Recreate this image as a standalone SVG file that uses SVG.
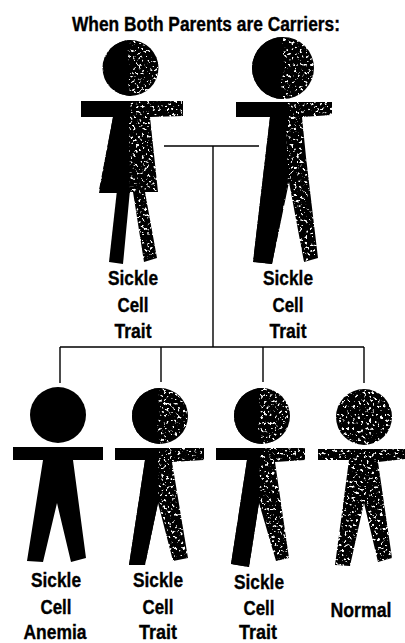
<svg xmlns="http://www.w3.org/2000/svg" width="405" height="643" viewBox="0 0 405 643">
<style>
text{font-family:"Liberation Sans",Arial,sans-serif;font-weight:700;font-size:20px;fill:#000;stroke:#000;stroke-width:.35;text-anchor:middle}
.s{fill:#000;filter:url(#speck)}
.k{fill:#000}
.c{fill:none;stroke:#000;stroke-width:1.4}
</style>
<defs>
<filter id="speck" filterUnits="userSpaceOnUse" x="0" y="0" width="405" height="643" color-interpolation-filters="sRGB">
<feTurbulence type="fractalNoise" baseFrequency="0.36" numOctaves="2" seed="7" result="n"/>
<feColorMatrix in="n" type="matrix" values="0 0 0 0 0  0 0 0 0 0  0 0 0 0 0  9 0 0 0 -2.7" result="m"/>
<feComposite in="SourceGraphic" in2="m" operator="in"/>
</filter>
</defs>
<g id="connectors">
<path class="c" d="M164 146H259M213 146V347M60 347H364M60 347V383M161 347V382M263 347V382M364 347V383"/>
</g>
<g id="title"><text x="206" y="31" textLength="268" lengthAdjust="spacingAndGlyphs">When Both Parents are Carriers:</text></g>
<g id="mother">
<circle class="s" cx="130.500" cy="68" r="28"/>
<path class="k" d="M131 40A28 28 0 0 0 131 96L128 84 131 70 127 52Z"/>
<path class="s" d="M81 101H183V116L150 117 158 192H145L157 258 144 262 133 192 99 190 113 117H81Z"/>
<path class="k" d="M81 101H131L129 117 130 193H99L113 117H81Z"/>
<path class="k" d="M117 190H130L123 264 109 262Z"/>
<text x="133" y="285" textLength="50" lengthAdjust="spacingAndGlyphs">Sickle</text>
<text x="133" y="312" textLength="31" lengthAdjust="spacingAndGlyphs">Cell</text>
<text x="133" y="338" textLength="37" lengthAdjust="spacingAndGlyphs">Trait</text>
</g>
<g id="father">
<circle class="s" cx="283" cy="68" r="31"/>
<path class="k" d="M283 37A31 31 0 0 0 283 99L281 82 285 68 282 50Z"/>
<path class="s" d="M236 102H332V115L302 117 306 157 318 258 304 262 289 182 272 264 253 262 270 117H236Z"/>
<path class="k" d="M236 102H288L286 117 288 182 272 264 253 262 270 117H236Z"/>
<text x="288" y="285" textLength="50" lengthAdjust="spacingAndGlyphs">Sickle</text>
<text x="288" y="312" textLength="31" lengthAdjust="spacingAndGlyphs">Cell</text>
<text x="288" y="338" textLength="37" lengthAdjust="spacingAndGlyphs">Trait</text>
</g>
<g id="child1">
<circle class="k" cx="58" cy="415" r="28"/>
<path class="k" d="M13 447H103V460H73L86 558 71 562 57 503 43 562 27 561 43 460H13Z"/>
<text x="56" y="587" textLength="50" lengthAdjust="spacingAndGlyphs">Sickle</text>
<text x="56" y="614" textLength="31" lengthAdjust="spacingAndGlyphs">Cell</text>
<text x="55" y="638.500" textLength="63" lengthAdjust="spacingAndGlyphs">Anemia</text>
</g>
<g id="child2">
<circle class="s" cx="160" cy="416" r="28"/>
<path class="k" d="M160 388A28 28 0 0 0 160 444L157 428 160 414 158 398Z"/>
<path class="s" d="M115 448H204V460L172 462 188 558 173 561 158 503 145 565 129 565 145 460H115Z"/>
<path class="k" d="M115 448H160L158 460 158 503 145 565 129 565 145 460H115Z"/>
<text x="158" y="587" textLength="50" lengthAdjust="spacingAndGlyphs">Sickle</text>
<text x="158" y="614" textLength="31" lengthAdjust="spacingAndGlyphs">Cell</text>
<text x="158" y="638.500" textLength="38" lengthAdjust="spacingAndGlyphs">Trait</text>
</g>
<g id="child3">
<circle class="s" cx="262" cy="416" r="28"/>
<path class="k" d="M262 388A28 28 0 0 0 262 444L258 428 261 414 259 398Z"/>
<path class="s" d="M216 448H305V460L275 462 289 558 276 561 259 503 249 567 231 564 247 460H216Z"/>
<path class="k" d="M216 448H262L260 460 259 503 249 567 231 564 247 460H216Z"/>
<text x="259" y="589" textLength="50" lengthAdjust="spacingAndGlyphs">Sickle</text>
<text x="259" y="615" textLength="31" lengthAdjust="spacingAndGlyphs">Cell</text>
<text x="258" y="638.500" textLength="38" lengthAdjust="spacingAndGlyphs">Trait</text>
</g>
<g id="child4">
<circle class="s" cx="364" cy="417" r="28"/>
<path class="s" d="M318 449H405V459L378 462 392 558 378 562 364 503 350 566 335 565 349 460H318Z"/>
<text x="361" y="617" textLength="61" lengthAdjust="spacingAndGlyphs">Normal</text>
</g>
</svg>
